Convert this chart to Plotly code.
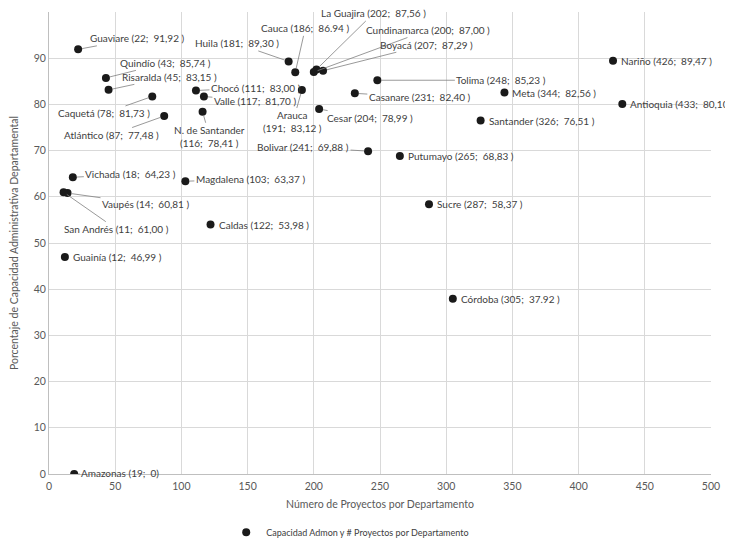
import plotly.graph_objects as go

# ---- data ----
departamentos = ["Guaviare", "Quindío", "Risaralda", "Caquetá", "Atlántico", "Chocó", "Valle",
                 "N. de Santander", "Huila", "Cauca", "Arauca", "La Guajira", "Cundinamarca", "Boyacá",
                 "Tolima", "Casanare", "Cesar", "Bolivar", "Putumayo", "Nariño", "Meta", "Antioquia",
                 "Santander", "Vichada", "Magdalena", "Vaupés", "San Andrés", "Guainía", "Caldas",
                 "Sucre", "Córdoba", "Amazonas"]
proyectos = [22, 43, 45, 78, 87, 111, 117, 116, 181, 186, 191, 202, 200, 207,
             248, 231, 204, 241, 265, 426, 344, 433, 326, 18, 103, 14, 11, 12, 122,
             287, 305, 19]
capacidad = [91.92, 85.74, 83.15, 81.73, 77.48, 83.00, 81.70, 78.41, 89.30, 86.94, 83.12, 87.56, 87.00, 87.29,
             85.23, 82.40, 78.99, 69.88, 68.83, 89.47, 82.56, 80.10, 76.51, 64.23, 63.37, 60.81, 61.00, 46.99, 53.98,
             58.37, 37.92, 0]
capacidad_txt = ["91,92 ", "85,74 ", "83,15 ", "81,73 ", "77,48 ", "83,00 ", "81,70 ", "78,41 ", "89,30 ",
                 "86.94 ", "83,12 ", "87,56 ", "87,00 ", "87,29 ", "85,23 ", "82,40 ", "78,99 ", "69,88 ",
                 "68,83 ", "89,47 ", "82,56 ", "80,10 ", "76,51 ", "64,23 ", "63,37 ", "60,81 ", "61,00 ",
                 "46,99 ", "53,98 ", "58,37 ", "37.92 ", "0"]
x_ticks = [0, 50, 100, 150, 200, 250, 300, 350, 400, 450, 500]
y_ticks = [0, 10, 20, 30, 40, 50, 60, 70, 80, 90, 100]
serie = "Capacidad Admon y # Proyectos por Departamento"

# label placement (pixel offsets of label centre from the point; None = plain label to the right)
offsets = [(59, -11), (60, -15), (61, -13), (-48, 17), (-53, 19), (60, -3), (51, 4),
           (7, 25), (-52, -18), (10, -44), (-9, 32), (57, -56), (114, -42), (103, -26),
           (124, 0), (65, 4), (51, 9), (-65, -4), None, None, None, None,
           None, (58, -3), (65, -2), (78, 11), (53, 37), None, None,
           None, None, (46, -1)]
two_line = {"N. de Santander", "Arauca"}

FONT = "Lato"
fig = go.Figure()
fig.add_trace(go.Scatter(x=proyectos, y=capacidad, mode="markers", name=serie,
                         marker=dict(color="#1a1a1a", size=8), showlegend=True))

annotations = []
for name, xv, yv, ytxt, off in zip(departamentos, proyectos, capacidad, capacidad_txt, offsets):
    sep = "<br>" if name in two_line else " "
    text = f"{name}{sep}({xv};  {ytxt})"
    common = dict(x=xv, y=yv, xref="x", yref="y", text=text,
                  font=dict(family=FONT, size=10, color="#404040"))
    if off is None:
        annotations.append(dict(**common, showarrow=False, xanchor="left", xshift=6))
    else:
        annotations.append(dict(**common, showarrow=True, arrowhead=0, arrowwidth=0.8,
                                arrowcolor="#7f7f7f", ax=off[0], ay=off[1], standoff=4,
                                borderpad=1))

fig.update_layout(
    width=725, height=533,
    margin=dict(l=41, r=22, t=4, b=67, autoexpand=False),
    paper_bgcolor="white", plot_bgcolor="white",
    font=dict(family=FONT, size=10, color="#595959"),
    annotations=annotations,
    showlegend=True,
    legend=dict(orientation="h", x=0.455, xanchor="center", y=-0.126, yanchor="middle",
                font=dict(family=FONT, size=9, color="#404040"), itemwidth=30,
                tracegroupgap=0),
)
fig.update_xaxes(range=[0, 500], tickvals=x_ticks, showgrid=True, gridcolor="#d9d9d9", gridwidth=1,
                 showline=True, linecolor="#bfbfbf", zeroline=False, ticks="", automargin=False,
                 ticklabelstandoff=2,
                 tickfont=dict(size=10.5, color="#595959"),
                 title=dict(text="Número de Proyectos por Departamento", standoff=10,
                            font=dict(size=10.5, color="#595959")))
fig.update_yaxes(range=[0, 100], tickvals=y_ticks, showgrid=True, gridcolor="#d9d9d9", gridwidth=1,
                 showline=True, linecolor="#bfbfbf", zeroline=False, ticks="", automargin=False,
                 tickfont=dict(size=10.5, color="#595959"),
                 title=dict(text="Porcentaje de Capacidad Administrativa Departamental", standoff=13,
                            font=dict(size=10.5, color="#595959")))

fig.write_html("out.html")
